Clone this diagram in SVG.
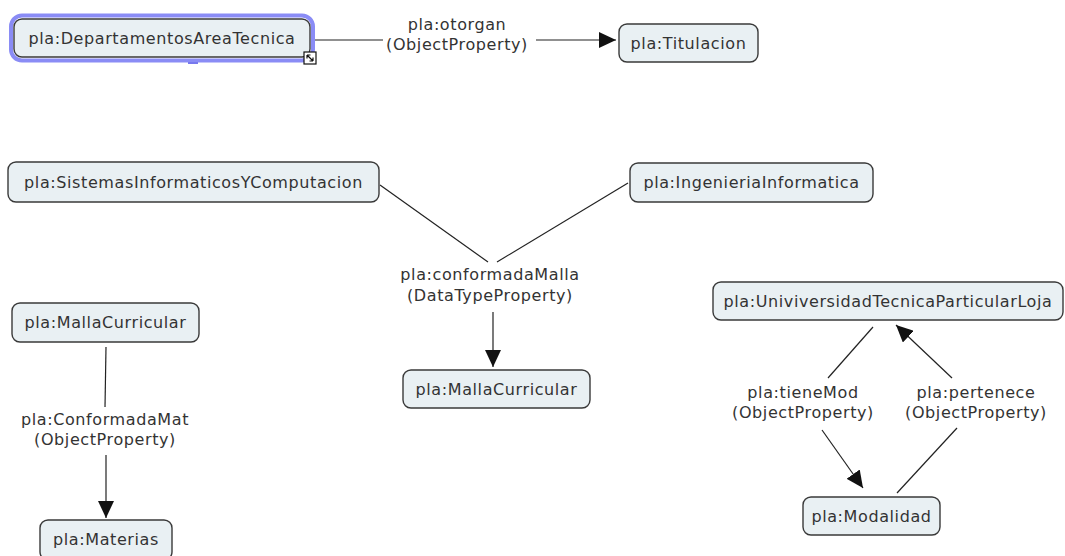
<svg xmlns="http://www.w3.org/2000/svg" width="1065" height="556" viewBox="0 0 1065 556">
  <style>
    .node rect { fill: #e9f0f3; stroke: #3a3a3a; stroke-width: 1.4; }
    text { font-family: "DejaVu Sans", Verdana, sans-serif; font-size: 16px; fill: #333; text-anchor: middle; letter-spacing: 0.6px; }
    .conn line { stroke: #222; stroke-width: 1.2; }
    .conn line.arr { marker-end: url(#head); }
  </style>
  <defs>
    <marker id="head" markerUnits="userSpaceOnUse" markerWidth="18" markerHeight="16" viewBox="0 0 18 16" refX="17" refY="8" orient="auto">
      <path d="M0,0 L17,8 L0,16 Z" fill="#111"/>
    </marker>
  </defs>
  <rect width="1065" height="556" fill="#ffffff"/>

  <!-- connectors and their property labels -->
  <g id="connectors" class="conn">
    <line x1="313" y1="40" x2="383" y2="40"/>
    <line class="arr" x1="536" y1="40" x2="616" y2="40"/>
    <text x="457" y="30">pla:otorgan</text>
    <text x="457" y="50">(ObjectProperty)</text>

    <line x1="380" y1="185" x2="488" y2="262"/>
    <line x1="628" y1="183" x2="497" y2="262"/>
    <line class="arr" x1="493" y1="312" x2="493" y2="367"/>
    <text x="490" y="280">pla:conformadaMalla</text>
    <text x="490" y="301">(DataTypeProperty)</text>

    <line x1="106" y1="347" x2="105" y2="407"/>
    <line class="arr" x1="106" y1="455" x2="106" y2="518"/>
    <text x="105" y="425">pla:ConformadaMat</text>
    <text x="105" y="445">(ObjectProperty)</text>

    <line x1="873" y1="327" x2="828" y2="378"/>
    <line class="arr" x1="822" y1="430" x2="863" y2="488"/>
    <text x="803" y="398">pla:tieneMod</text>
    <text x="803" y="418">(ObjectProperty)</text>

    <line x1="897" y1="493" x2="957" y2="428"/>
    <line class="arr" x1="952" y1="378" x2="896" y2="325"/>
    <text x="976" y="398">pla:pertenece</text>
    <text x="976" y="418">(ObjectProperty)</text>
  </g>

  <!-- selected node with highlight and resize handle -->
  <g id="n-departamentos" class="node">
    <rect x="11" y="15.5" width="302" height="45" rx="11" style="fill:none;stroke:#8a8cf5;stroke-width:4"/>
    <rect x="14" y="19" width="296" height="38" rx="8"/>
    <line x1="188" y1="63" x2="198" y2="63" stroke="#7779ee" stroke-width="2"/>
    <text x="162" y="44">pla:DepartamentosAreaTecnica</text>
    <rect x="304" y="52" width="12" height="12" rx="0" style="fill:#fff;stroke:#111;stroke-width:1.2"/>
    <path d="M307,55 L313,61 M307,55 L307,58.5 M307,55 L310.5,55 M313,61 L313,57.5 M313,61 L309.5,61" stroke="#111" stroke-width="1.2" fill="none"/>
  </g>

  <g id="n-titulacion" class="node">
    <rect x="619" y="24" width="139" height="38" rx="8"/>
    <text x="688.5" y="49">pla:Titulacion</text>
  </g>

  <g id="n-sistemas" class="node">
    <rect x="8" y="162" width="371" height="40" rx="8"/>
    <text x="193.5" y="188">pla:SistemasInformaticosYComputacion</text>
  </g>

  <g id="n-ingenieria" class="node">
    <rect x="630" y="163" width="243" height="39" rx="8"/>
    <text x="751.5" y="188">pla:IngenieriaInformatica</text>
  </g>

  <g id="n-malla-central" class="node">
    <rect x="403" y="370" width="187" height="38" rx="8"/>
    <text x="496.5" y="395">pla:MallaCurricular</text>
  </g>

  <g id="n-malla-left" class="node">
    <rect x="12" y="303" width="187" height="39" rx="8"/>
    <text x="105.5" y="328">pla:MallaCurricular</text>
  </g>

  <g id="n-materias" class="node">
    <rect x="40" y="520" width="132" height="40" rx="8"/>
    <text x="106" y="545">pla:Materias</text>
  </g>

  <g id="n-utpl" class="node">
    <rect x="713" y="282" width="350" height="38" rx="8"/>
    <text x="888" y="307">pla:UniviversidadTecnicaParticularLoja</text>
  </g>

  <g id="n-modalidad" class="node">
    <rect x="803" y="497" width="137" height="38" rx="8"/>
    <text x="871.5" y="522">pla:Modalidad</text>
  </g>
</svg>
